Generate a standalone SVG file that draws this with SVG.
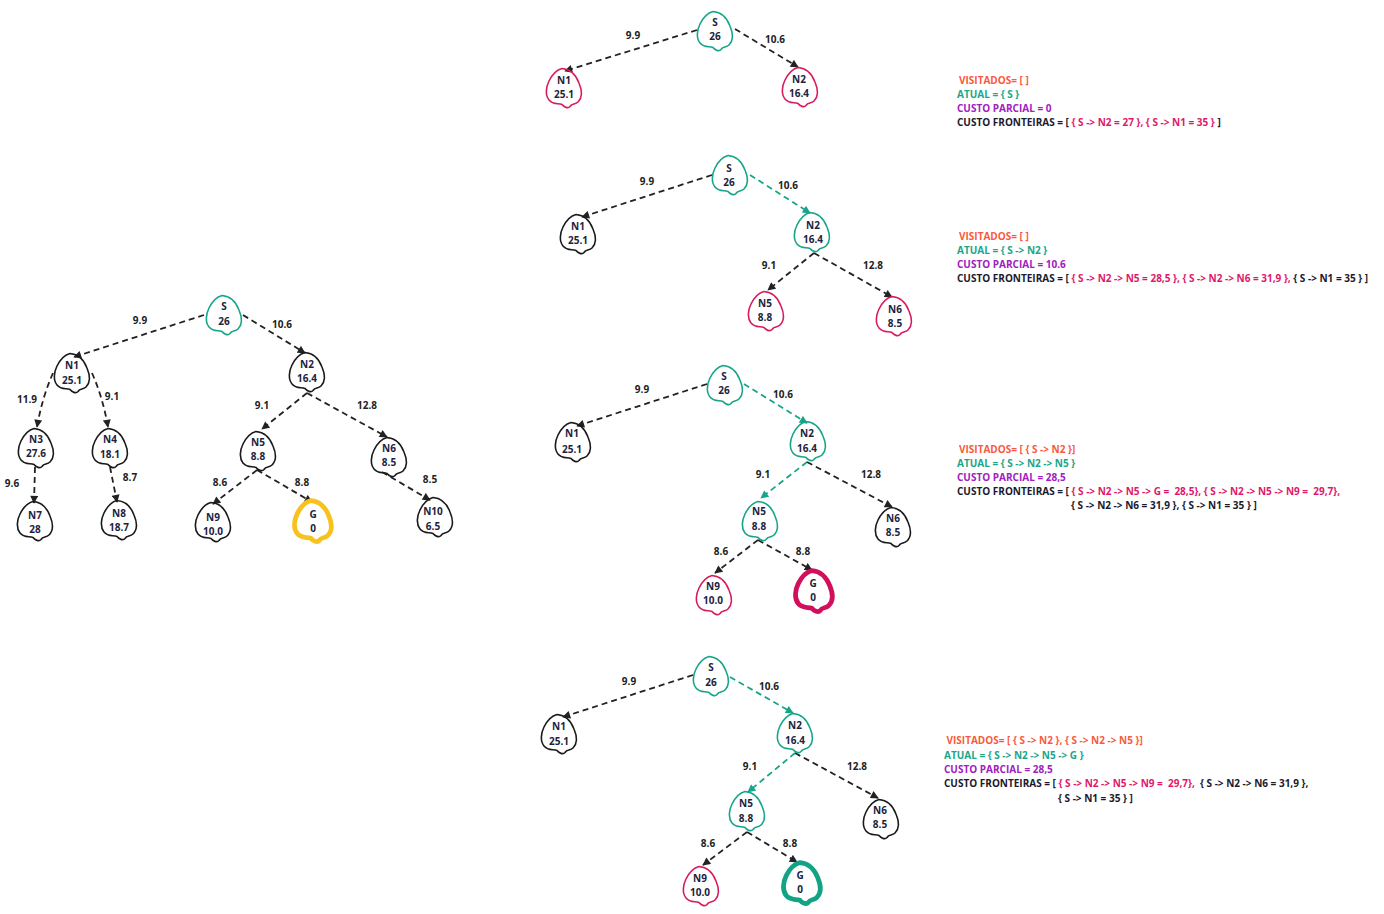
<svg xmlns="http://www.w3.org/2000/svg" xmlns:xlink="http://www.w3.org/1999/xlink" width="1384" height="914" viewBox="0 0 1384 914">
<style>
text{font-family:"Open Sans","Noto Sans","Liberation Sans",sans-serif;font-weight:700;font-size:10px}
.nt{fill:#1c2340;text-anchor:middle}
.el{fill:#222;text-anchor:middle}
.nb{fill:none;stroke:#1a1a1a;stroke-width:1.6}
.nteal{fill:none;stroke:#17a589;stroke-width:1.6}
.npink{fill:none;stroke:#d81b60;stroke-width:1.6}
.gy{fill:none;stroke:#f8c21c;stroke-width:4.5}
.gp{fill:none;stroke:#d10f5c;stroke-width:4.5}
.gt{fill:none;stroke:#11a384;stroke-width:4.5}
.e{fill:none;stroke:#222;stroke-width:1.8;stroke-dasharray:6 4;marker-end:url(#ab)}
.et{fill:none;stroke:#17a589;stroke-width:1.8;stroke-dasharray:6 4;marker-end:url(#at)}
.vis{fill:#fa5a3c}
.atu{fill:#1aa68a}
.par{fill:#a020c0}
.fr{fill:#1a1a2e}
.pk{fill:#e0176a}
</style>
<defs>
<path id="blob" d="M -2,-19.5 C 6,-19 12,-13 15,-5 C 18,2 19,9 14,14 C 11,17 8,15 6,18.5 C 4,21 0,19 -2,16.5 C -6,15 -11,17 -15,12 C -19,7 -18,-1 -15,-7 C -12,-13 -8,-18 -2,-19.5 Z"/>
<marker id="ab" viewBox="0 0 10 10" refX="9" refY="5" markerWidth="9" markerHeight="8" markerUnits="userSpaceOnUse" orient="auto"><path d="M0,0 L10,5 L0,10 z" fill="#222"/></marker>
<marker id="at" viewBox="0 0 10 10" refX="9" refY="5" markerWidth="9" markerHeight="8" markerUnits="userSpaceOnUse" orient="auto"><path d="M0,0 L10,5 L0,10 z" fill="#17a589"/></marker>
</defs>
<rect width="1384" height="914" fill="#fff"/>

<g id="connectors">
<path class="e" d="M204,315 L74,357"/>
<path class="e" d="M243,315 L305,353"/>
<path class="e" d="M53,373 Q42,398 37,427"/>
<path class="e" d="M92,373 Q103,398 108,427"/>
<path class="e" d="M35,467 L34,503"/>
<path class="e" d="M110,467 L117,502"/>
<path class="e" d="M307,393 L262,429"/>
<path class="e" d="M307,393 L387,437"/>
<path class="e" d="M257,470 L213,504"/>
<path class="e" d="M257,470 L312,502"/>
<path class="e" d="M382,472 L430,500"/>
<path class="e" d="M697,30 L565,71"/>
<path class="e" d="M735,29 L798,67"/>
<path class="e" d="M712,175 L582,217"/>
<path class="et" d="M750,175 L810,213"/>
<path class="e" d="M814,253 L768,290"/>
<path class="e" d="M814,253 L892,297"/>
<path class="e" d="M707,384 L577,426"/>
<path class="et" d="M744,384 L807,423"/>
<path class="et" d="M807,462 L761,498"/>
<path class="e" d="M807,462 L892,507"/>
<path class="e" d="M758,540 L715,573"/>
<path class="e" d="M758,540 L812,570"/>
<path class="e" d="M693,675 L563,717"/>
<path class="et" d="M730,677 L793,713"/>
<path class="et" d="M795,753 L748,792"/>
<path class="e" d="M795,753 L878,798"/>
<path class="e" d="M747,832 L703,865"/>
<path class="e" d="M747,832 L797,862"/>
</g>

<g id="edge-labels">
<text class="el" x="140" y="324">9.9</text>
<text class="el" x="282" y="328">10.6</text>
<text class="el" x="27" y="403">11.9</text>
<text class="el" x="112" y="400">9.1</text>
<text class="el" x="262" y="409">9.1</text>
<text class="el" x="367" y="409">12.8</text>
<text class="el" x="12" y="487">9.6</text>
<text class="el" x="130" y="481">8.7</text>
<text class="el" x="220" y="486">8.6</text>
<text class="el" x="302" y="486">8.8</text>
<text class="el" x="430" y="483">8.5</text>
<text class="el" x="633" y="39">9.9</text>
<text class="el" x="775" y="43">10.6</text>
<text class="el" x="647" y="185">9.9</text>
<text class="el" x="788" y="189">10.6</text>
<text class="el" x="769" y="269">9.1</text>
<text class="el" x="873" y="269">12.8</text>
<text class="el" x="642" y="393">9.9</text>
<text class="el" x="783" y="398">10.6</text>
<text class="el" x="763" y="478">9.1</text>
<text class="el" x="871" y="478">12.8</text>
<text class="el" x="721" y="555">8.6</text>
<text class="el" x="803" y="555">8.8</text>
<text class="el" x="629" y="685">9.9</text>
<text class="el" x="769" y="690">10.6</text>
<text class="el" x="750" y="770">9.1</text>
<text class="el" x="857" y="770">12.8</text>
<text class="el" x="708" y="847">8.6</text>
<text class="el" x="790" y="847">8.8</text>
</g>

<g id="t0-S"><use href="#blob" class="nteal" transform="translate(224,315)"/><text class="nt" x="224" y="310">S</text><text class="nt" x="224" y="325">26</text></g>
<g id="t0-N1"><use href="#blob" class="nb" transform="translate(72,373)"/><text class="nt" x="72" y="369">N1</text><text class="nt" x="72" y="384">25.1</text></g>
<g id="t0-N2"><use href="#blob" class="nb" transform="translate(307,372)"/><text class="nt" x="307" y="368">N2</text><text class="nt" x="307" y="382">16.4</text></g>
<g id="t0-N3"><use href="#blob" class="nb" transform="translate(36,448)"/><text class="nt" x="36" y="443">N3</text><text class="nt" x="36" y="457">27.6</text></g>
<g id="t0-N4"><use href="#blob" class="nb" transform="translate(110,448)"/><text class="nt" x="110" y="443">N4</text><text class="nt" x="110" y="458">18.1</text></g>
<g id="t0-N5"><use href="#blob" class="nb" transform="translate(258,451)"/><text class="nt" x="258" y="446">N5</text><text class="nt" x="258" y="460">8.8</text></g>
<g id="t0-N6"><use href="#blob" class="nb" transform="translate(389,457)"/><text class="nt" x="389" y="452">N6</text><text class="nt" x="389" y="466">8.5</text></g>
<g id="t0-N7"><use href="#blob" class="nb" transform="translate(35,521)"/><text class="nt" x="35" y="519">N7</text><text class="nt" x="35" y="533">28</text></g>
<g id="t0-N8"><use href="#blob" class="nb" transform="translate(119,520)"/><text class="nt" x="119" y="517">N8</text><text class="nt" x="119" y="531">18.7</text></g>
<g id="t0-N9"><use href="#blob" class="nb" transform="translate(213,522)"/><text class="nt" x="213" y="521">N9</text><text class="nt" x="213" y="535">10.0</text></g>
<g id="t0-G"><use href="#blob" class="gy" transform="translate(313,521) scale(1.05)"/><text class="nt" x="313" y="518">G</text><text class="nt" x="313" y="532">0</text></g>
<g id="t0-N10"><use href="#blob" class="nb" transform="translate(435,517)"/><text class="nt" x="433" y="515">N10</text><text class="nt" x="433" y="530">6.5</text></g>

<g id="p1-S"><use href="#blob" class="nteal" transform="translate(715,31)"/><text class="nt" x="715" y="26">S</text><text class="nt" x="715" y="40">26</text></g>
<g id="p1-N1"><use href="#blob" class="npink" transform="translate(564,88)"/><text class="nt" x="564" y="84">N1</text><text class="nt" x="564" y="98">25.1</text></g>
<g id="p1-N2"><use href="#blob" class="npink" transform="translate(800,87)"/><text class="nt" x="799" y="83">N2</text><text class="nt" x="799" y="97">16.4</text></g>

<g id="p2-S"><use href="#blob" class="nteal" transform="translate(730,175)"/><text class="nt" x="729" y="172">S</text><text class="nt" x="729" y="186">26</text></g>
<g id="p2-N1"><use href="#blob" class="nb" transform="translate(578,234)"/><text class="nt" x="578" y="230">N1</text><text class="nt" x="578" y="244">25.1</text></g>
<g id="p2-N2"><use href="#blob" class="nteal" transform="translate(812,232)"/><text class="nt" x="813" y="229">N2</text><text class="nt" x="813" y="243">16.4</text></g>
<g id="p2-N5"><use href="#blob" class="npink" transform="translate(766,311)"/><text class="nt" x="765" y="307">N5</text><text class="nt" x="765" y="321">8.8</text></g>
<g id="p2-N6"><use href="#blob" class="npink" transform="translate(894,316)"/><text class="nt" x="895" y="313">N6</text><text class="nt" x="895" y="327">8.5</text></g>

<g id="p3-S"><use href="#blob" class="nteal" transform="translate(725,385)"/><text class="nt" x="724" y="380">S</text><text class="nt" x="724" y="394">26</text></g>
<g id="p3-N1"><use href="#blob" class="nb" transform="translate(573,442)"/><text class="nt" x="572" y="437">N1</text><text class="nt" x="572" y="453">25.1</text></g>
<g id="p3-N2"><use href="#blob" class="nteal" transform="translate(808,441)"/><text class="nt" x="807" y="437">N2</text><text class="nt" x="807" y="452">16.4</text></g>
<g id="p3-N5"><use href="#blob" class="nteal" transform="translate(760,521)"/><text class="nt" x="759" y="515">N5</text><text class="nt" x="759" y="530">8.8</text></g>
<g id="p3-N6"><use href="#blob" class="nb" transform="translate(893,527)"/><text class="nt" x="893" y="522">N6</text><text class="nt" x="893" y="536">8.5</text></g>
<g id="p3-N9"><use href="#blob" class="npink" transform="translate(714,595)"/><text class="nt" x="713" y="590">N9</text><text class="nt" x="713" y="604">10.0</text></g>
<g id="p3-G"><use href="#blob" class="gp" transform="translate(814,591) scale(1.05)"/><text class="nt" x="813" y="587">G</text><text class="nt" x="813" y="601">0</text></g>

<g id="p4-S"><use href="#blob" class="nteal" transform="translate(711,676)"/><text class="nt" x="711" y="671">S</text><text class="nt" x="711" y="686">26</text></g>
<g id="p4-N1"><use href="#blob" class="nb" transform="translate(559,734)"/><text class="nt" x="559" y="730">N1</text><text class="nt" x="559" y="745">25.1</text></g>
<g id="p4-N2"><use href="#blob" class="nteal" transform="translate(795,733)"/><text class="nt" x="795" y="729">N2</text><text class="nt" x="795" y="744">16.4</text></g>
<g id="p4-N5"><use href="#blob" class="nteal" transform="translate(747,811)"/><text class="nt" x="746" y="807">N5</text><text class="nt" x="746" y="822">8.8</text></g>
<g id="p4-N6"><use href="#blob" class="nb" transform="translate(881,819)"/><text class="nt" x="880" y="814">N6</text><text class="nt" x="880" y="828">8.5</text></g>
<g id="p4-N9"><use href="#blob" class="npink" transform="translate(701,886)"/><text class="nt" x="700" y="882">N9</text><text class="nt" x="700" y="896">10.0</text></g>
<g id="p4-G"><use href="#blob" class="gt" transform="translate(802,883) scale(1.05)"/><text class="nt" x="800" y="879">G</text><text class="nt" x="800" y="893">0</text></g>

<g id="state1">
<text class="vis" x="959" y="83.6">VISITADOS= [ ]</text>
<text class="atu" x="957" y="97.8">ATUAL = { S }</text>
<text class="par" x="957" y="111.8">CUSTO PARCIAL = 0</text>
<text class="fr" x="957" y="126.3">CUSTO FRONTEIRAS = [ <tspan class="pk">{ S -&gt; N2 = 27 }, { S -&gt; N1 = 35 }</tspan> ]</text>
</g>
<g id="state2">
<text class="vis" x="959" y="240.2">VISITADOS= [ ]</text>
<text class="atu" x="957" y="254.2">ATUAL = { S -&gt; N2 }</text>
<text class="par" x="957" y="268.4">CUSTO PARCIAL = 10.6</text>
<text class="fr" x="957" y="282.4">CUSTO FRONTEIRAS = [ <tspan class="pk">{ S -&gt; N2 -&gt; N5 = 28,5 }, { S -&gt; N2 -&gt; N6 = 31,9 },</tspan> { S -&gt; N1 = 35 } ]</text>
</g>
<g id="state3">
<text class="vis" x="959" y="453.2">VISITADOS= [ { S -&gt; N2 }]</text>
<text class="atu" x="957" y="466.8">ATUAL = { S -&gt; N2 -&gt; N5 }</text>
<text class="par" x="957" y="480.9">CUSTO PARCIAL = 28,5</text>
<text class="fr" x="957" y="495">CUSTO FRONTEIRAS = [ <tspan class="pk">{ S -&gt; N2 -&gt; N5 -&gt; G =&#160; 28,5}, { S -&gt; N2 -&gt; N5 -&gt; N9 =&#160; 29,7},</tspan></text>
<text class="fr" x="1071" y="509.3">{ S -&gt; N2 -&gt; N6 = 31,9 }, { S -&gt; N1 = 35 } ]</text>
</g>
<g id="state4">
<text class="vis" x="946.5" y="744.3">VISITADOS= [ { S -&gt; N2 }, { S -&gt; N2 -&gt; N5 }]</text>
<text class="atu" x="944" y="758.6">ATUAL = { S -&gt; N2 -&gt; N5 -&gt; G }</text>
<text class="par" x="944" y="772.9">CUSTO PARCIAL = 28,5</text>
<text class="fr" x="944" y="787">CUSTO FRONTEIRAS = [ <tspan class="pk">{ S -&gt; N2 -&gt; N5 -&gt; N9 =&#160; 29,7},</tspan>&#160; { S -&gt; N2 -&gt; N6 = 31,9 },</text>
<text class="fr" x="1058" y="801.9">{ S -&gt; N1 = 35 } ]</text>
</g>
</svg>
